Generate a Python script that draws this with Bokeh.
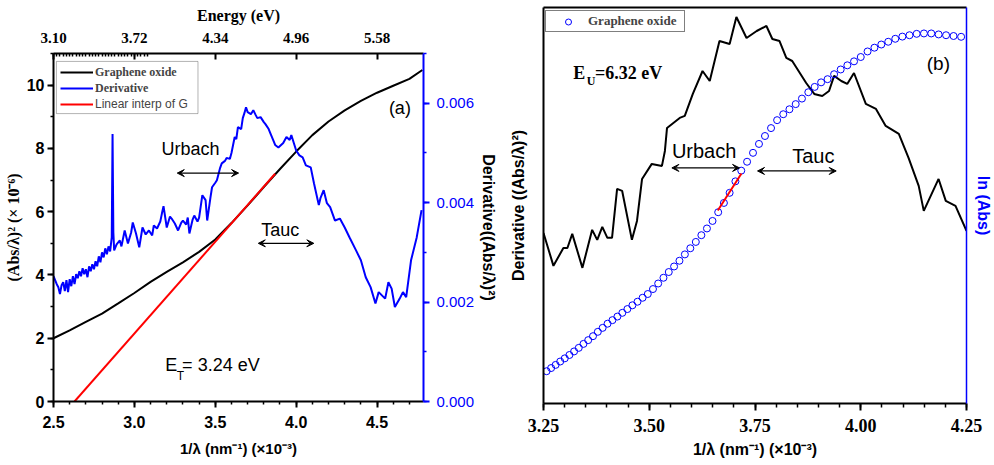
from bokeh.plotting import figure
from bokeh.layouts import row, column
from bokeh.models import (Range1d, LinearAxis, SingleIntervalTicker, FixedTicker,
                          NumeralTickFormatter, Legend, LegendItem, Label, Arrow,
                          VeeHead, BoxAnnotation)
from bokeh.embed import file_html
from bokeh.resources import INLINE

# ---------------- data: panel (a) ----------------
go_x = [2.5, 2.6, 2.7, 2.8, 2.9, 3.0, 3.1, 3.2, 3.3, 3.4, 3.5, 3.6, 3.7, 3.8, 3.9,
        4.0, 4.1, 4.2, 4.3, 4.4, 4.5, 4.6, 4.7, 4.78]
go_y = [2.0, 2.25, 2.52, 2.78, 3.1, 3.43, 3.78, 4.1, 4.4, 4.73, 5.12, 5.64, 6.2, 6.78, 7.35,
        7.9, 8.42, 8.85, 9.2, 9.5, 9.76, 9.98, 10.2, 10.48]

deriv_x = [2.50, 2.52, 2.53, 2.54, 2.55, 2.56, 2.57, 2.58, 2.59, 2.60,
           2.61, 2.62, 2.63, 2.64, 2.65, 2.66, 2.67, 2.68, 2.69, 2.70,
           2.71, 2.72, 2.73, 2.74, 2.75, 2.76, 2.77, 2.78, 2.79, 2.80,
           2.81, 2.82, 2.83, 2.84, 2.85, 2.86, 2.865, 2.87, 2.875, 2.89,
           2.91, 2.92, 2.94, 2.96, 2.98, 2.99, 3.01, 3.03, 3.05, 3.07,
           3.09, 3.11, 3.12, 3.14, 3.16, 3.17, 3.18, 3.20, 3.22, 3.23,
           3.25, 3.27, 3.29, 3.30, 3.32, 3.33, 3.34, 3.36, 3.37, 3.39,
           3.40, 3.42, 3.44, 3.45, 3.47, 3.48, 3.50, 3.51, 3.53, 3.54,
           3.56, 3.57, 3.59, 3.60, 3.62, 3.63, 3.64, 3.66, 3.67, 3.68,
           3.69, 3.70, 3.72, 3.735, 3.75, 3.76, 3.78, 3.80, 3.81, 3.83,
           3.84, 3.86, 3.87, 3.89, 3.92, 3.94, 3.96, 3.97, 4.00, 4.02,
           4.04, 4.06, 4.09, 4.11, 4.14, 4.15, 4.17, 4.19, 4.21, 4.24,
           4.27, 4.30, 4.33, 4.37, 4.40, 4.43, 4.46, 4.49, 4.51, 4.55,
           4.57, 4.59, 4.61, 4.64, 4.66, 4.68, 4.71, 4.745, 4.775]
deriv_y = [0.00252, 0.00236, 0.00230, 0.00216, 0.00234, 0.00240, 0.00222, 0.00244, 0.00220, 0.00246,
           0.00232, 0.00252, 0.00236, 0.00256, 0.00248, 0.00262, 0.00252, 0.00268, 0.00256, 0.00266,
           0.00250, 0.00272, 0.00262, 0.00276, 0.00266, 0.00282, 0.00272, 0.00292, 0.00280, 0.00300,
           0.00290, 0.00308, 0.00296, 0.00312, 0.00302, 0.00330, 0.00538, 0.00340, 0.00304, 0.00316,
           0.00324, 0.00312, 0.00344, 0.00318, 0.00340, 0.00360, 0.00338, 0.00310, 0.00350, 0.00336,
           0.00344, 0.00334, 0.00354, 0.00348, 0.00362, 0.00378, 0.00393, 0.00350, 0.00372, 0.00368,
           0.00358, 0.00344, 0.00360, 0.00364, 0.00356, 0.00370, 0.00338, 0.00366, 0.00374, 0.00362,
           0.00370, 0.00415, 0.00405, 0.00364, 0.00410, 0.00431, 0.00440, 0.00445, 0.00470, 0.00479,
           0.00484, 0.00490, 0.00488, 0.00500, 0.00532, 0.00528, 0.00552, 0.00548, 0.00570, 0.00580,
           0.00592, 0.00582, 0.00578, 0.00586, 0.00576, 0.00570, 0.00572, 0.00562, 0.00558, 0.00548,
           0.00540, 0.00524, 0.00516, 0.00511, 0.00520, 0.00532, 0.00526, 0.00536, 0.00505, 0.00495,
           0.00491, 0.00475, 0.00471, 0.00439, 0.00395, 0.00409, 0.00425, 0.00399, 0.00391, 0.00364,
           0.00368, 0.00350, 0.00330, 0.00304, 0.00284, 0.00250, 0.00230, 0.00197, 0.00220, 0.00207,
           0.00240, 0.00227, 0.00190, 0.00207, 0.00220, 0.00210, 0.00284, 0.00330, 0.00385]

fit_x = [2.63, 3.87]
fit_y = [0.0, 7.2]

energy_ticks = [3.10, 3.72, 4.34, 4.96, 5.58]

# ---------------- data: panel (b) ----------------
b_deriv_x = [3.250, 3.2735, 3.297, 3.3065, 3.318, 3.342, 3.365, 3.377, 3.389, 3.401,
             3.412, 3.424, 3.436, 3.459, 3.471, 3.483, 3.506, 3.530, 3.537, 3.542,
             3.572, 3.584, 3.603, 3.626, 3.643, 3.666, 3.690, 3.706, 3.730, 3.754,
             3.777, 3.791, 3.808, 3.824, 3.838, 3.871, 3.890, 3.909, 3.925, 3.937,
             3.954, 3.968, 3.984, 4.012, 4.036, 4.059, 4.090, 4.113, 4.137, 4.149,
             4.184, 4.201, 4.224, 4.250]
b_deriv_y = [0.003632, 0.003286, 0.003474, 0.003474, 0.003622, 0.003265, 0.003664, 0.003559, 0.003695, 0.003580,
             0.003580, 0.004094, 0.004073, 0.003559, 0.003758, 0.004199, 0.004357, 0.004336, 0.004493, 0.004735,
             0.004840, 0.004861, 0.005092, 0.005333, 0.005228, 0.005648, 0.005617, 0.005900, 0.005680, 0.005753,
             0.005806, 0.005669, 0.005648, 0.005470, 0.005438, 0.005207, 0.005092, 0.005071, 0.005123, 0.005281,
             0.005228, 0.005197, 0.005312, 0.004987, 0.004934, 0.004756, 0.004672, 0.004420, 0.004126, 0.003863,
             0.004199, 0.003968, 0.003916, 0.003653]

inv_lambda = [3.2573, 3.2680, 3.2787, 3.2895, 3.3003, 3.3113, 3.3223, 3.3333, 3.3445, 3.3557,
              3.3670, 3.3784, 3.3898, 3.4014, 3.4130, 3.4247, 3.4364, 3.4483, 3.4602, 3.4722,
              3.4843, 3.4965, 3.5088, 3.5211, 3.5336, 3.5461, 3.5587, 3.5714, 3.5842, 3.5971,
              3.6101, 3.6232, 3.6364, 3.6496, 3.6630, 3.6765, 3.6900, 3.7037, 3.7175, 3.7313,
              3.7453, 3.7594, 3.7736, 3.7879, 3.8023, 3.8168, 3.8314, 3.8462, 3.8610, 3.8760,
              3.8911, 3.9063, 3.9216, 3.9370, 3.9526, 3.9683, 3.9841, 4.0000, 4.0161, 4.0323,
              4.0486, 4.0650, 4.0816, 4.0984, 4.1152, 4.1322, 4.1494, 4.1667, 4.1841, 4.2017,
              4.2194, 4.2373]
ln_abs = [-1.337, -1.321, -1.305, -1.288, -1.272, -1.255, -1.237, -1.219, -1.199, -1.180,
          -1.160, -1.138, -1.118, -1.097, -1.079, -1.061, -1.042, -1.023, -1.004, -0.986,
          -0.966, -0.947, -0.922, -0.894, -0.865, -0.836, -0.808, -0.779, -0.747, -0.716,
          -0.684, -0.650, -0.616, -0.578, -0.534, -0.487, -0.436, -0.378, -0.324, -0.279,
          -0.234, -0.189, -0.149, -0.109, -0.069, -0.039, -0.014, 0.012, 0.040, 0.072,
          0.099, 0.122, 0.138, 0.163, 0.187, 0.208, 0.228, 0.250, 0.278, 0.297,
          0.313, 0.327, 0.342, 0.353, 0.360, 0.367, 0.369, 0.369, 0.364, 0.360,
          0.356, 0.352]

urbach_x = [3.662, 3.718]
urbach_y = [-0.525, -0.338]

SANS = "Liberation Sans"
SERIF = "Liberation Serif"
BLUE = "#0000FF"


def style_axis(ax, color="black", font=SANS, size="16px", fstyle="bold", lw=2,
               tick_out=6, minor_out=3):
    ax.axis_line_color = color
    ax.axis_line_width = lw
    ax.major_tick_line_color = color
    ax.minor_tick_line_color = color
    ax.major_tick_line_width = lw
    ax.minor_tick_line_width = 1.5
    ax.major_tick_out = tick_out
    ax.major_tick_in = 0
    ax.minor_tick_out = minor_out
    ax.minor_tick_in = 0
    ax.major_label_text_color = color
    ax.major_label_text_font = font
    ax.major_label_text_font_size = size
    ax.major_label_text_font_style = fstyle
    ax.axis_label_text_color = color
    ax.axis_label_text_font_style = "bold"


# ================= panel (a) =================
pa = figure(width=500, height=465, x_range=Range1d(2.5, 4.787), y_range=Range1d(0, 11),
            output_backend="svg", toolbar_location=None,
            min_border_left=53, min_border_right=73, min_border_top=53, min_border_bottom=64)
pa.outline_line_color = None
pa.xgrid.grid_line_color = None
pa.ygrid.grid_line_color = None
pa.background_fill_color = "white"
pa.border_fill_color = "white"

pa.extra_y_ranges = {"deriv": Range1d(0, 0.007)}
pa.extra_x_ranges = {"energy": Range1d(2.5 * 1.24, 4.787 * 1.24)}

xa = pa.xaxis[0]
style_axis(xa, size="16px")
xa.ticker = SingleIntervalTicker(interval=0.5, num_minor_ticks=5)
xa.formatter = NumeralTickFormatter(format="0.0")
xa.major_label_standoff = 8
xa.axis_label = "1/λ (nm⁻¹) (×10⁻³)"
xa.axis_label_text_font = SANS
xa.axis_label_text_font_size = "15px"
xa.axis_label_standoff = 9

ya = pa.yaxis[0]
style_axis(ya, size="16px")
ya.ticker = SingleIntervalTicker(interval=2, num_minor_ticks=2)
ya.major_label_standoff = 3
ya.axis_label = "(Abs/λ)² (× 10⁻⁶)"
ya.axis_label_text_font = SERIF
ya.axis_label_text_font_size = "16px"
ya.axis_label_standoff = 2

top_minor = [energy_ticks[0] + 0.124 * k / 5 for k in range(-5, 30)]
ta = LinearAxis(x_range_name="energy",
                ticker=FixedTicker(ticks=energy_ticks, minor_ticks=top_minor),
                formatter=NumeralTickFormatter(format="0.00"))
style_axis(ta, font=SERIF, size="15px")
ta.major_tick_out = 0
ta.major_tick_in = 6
ta.minor_tick_out = 0
ta.minor_tick_in = 3
ta.major_label_standoff = 11
ta.axis_label = "Energy (eV)"
ta.axis_label_text_font = SERIF
ta.axis_label_text_font_size = "16px"
ta.axis_label_standoff = 6
pa.add_layout(ta, "above")

ra = LinearAxis(y_range_name="deriv",
                ticker=SingleIntervalTicker(interval=0.002, num_minor_ticks=2),
                formatter=NumeralTickFormatter(format="0.000"))
style_axis(ra, color=BLUE, size="15px", fstyle="normal")
ra.major_label_standoff = 7
ra.axis_label = "Derivative((Abs/λ)²)"
ra.axis_label_text_color = "black"
ra.axis_label_text_font = SANS
ra.axis_label_text_font_size = "16px"
ra.axis_label_standoff = 3
pa.add_layout(ra, "right")

r_go = pa.line(go_x, go_y, line_color="black", line_width=2)
r_der = pa.line(deriv_x, deriv_y, line_color=BLUE, line_width=2, y_range_name="deriv")
r_fit = pa.line(fit_x, fit_y, line_color="red", line_width=2)

# legend frame and entries (two fonts in the original)
pa.add_layout(BoxAnnotation(left=2.518, right=3.393, top=10.75, bottom=9.10,
                            fill_color="white", fill_alpha=1.0,
                            line_color="black", line_width=1))
leg_a1 = Legend(items=[LegendItem(label="Graphene oxide", renderers=[r_go]),
                       LegendItem(label="Derivative", renderers=[r_der])],
                location=(7, 305), padding=0, margin=0, spacing=0,
                glyph_width=33, glyph_height=16, label_height=16, label_standoff=2,
                label_text_font=SERIF, label_text_font_style="bold",
                label_text_font_size="12px", border_line_color=None,
                background_fill_alpha=0)
leg_a2 = Legend(items=[LegendItem(label="Linear interp of G", renderers=[r_fit])],
                location=(7, 289), padding=0, margin=0, spacing=0,
                glyph_width=33, glyph_height=16, label_height=16, label_standoff=2,
                label_text_font=SANS, label_text_font_size="12px",
                border_line_color=None, background_fill_alpha=0)
pa.add_layout(leg_a1)
pa.add_layout(leg_a2)

for txt, x, y, size in [("Urbach", 3.167, 7.97, "18px"),
                        ("Tauc", 3.784, 5.41, "18px"),
                        ("(a)", 4.573, 9.27, "18px"),
                        ("E", 3.191, 1.14, "18px"),
                        ("T", 3.262, 0.80, "12px"),
                        ("= 3.24 eV", 3.295, 1.14, "18px")]:
    pa.add_layout(Label(x=x, y=y, text=txt, text_font=SANS, text_font_size=size,
                        text_baseline="middle", text_align="left", text_color="black"))

for xs, xe, yy in [(3.265, 3.644, 7.22), (3.766, 4.109, 5.0)]:
    pa.add_layout(Arrow(x_start=xs, y_start=yy, x_end=xe, y_end=yy, line_width=1.2,
                        start=VeeHead(size=7, line_color="black", fill_color="black", line_width=1),
                        end=VeeHead(size=7, line_color="black", fill_color="black", line_width=1)))

# ================= panel (b) =================
pb = figure(width=494, height=465, x_range=Range1d(3.25, 4.25), y_range=Range1d(0.00184, 0.006),
            output_backend="svg", toolbar_location=None,
            min_border_left=43, min_border_right=26, min_border_top=7, min_border_bottom=62)
pb.outline_line_color = None
pb.xgrid.grid_line_color = None
pb.ygrid.grid_line_color = None
pb.background_fill_color = "white"
pb.border_fill_color = "white"
pb.extra_y_ranges = {"ln": Range1d(-1.5, 0.5)}

xb = pb.xaxis[0]
style_axis(xb, font=SERIF, size="18px", tick_out=7, minor_out=4)
xb.ticker = SingleIntervalTicker(interval=0.25, num_minor_ticks=5)
xb.formatter = NumeralTickFormatter(format="0.00")
xb.major_label_standoff = 8
xb.axis_label = "1/λ (nm⁻¹) (×10⁻³)"
xb.axis_label_text_font = SANS
xb.axis_label_text_font_size = "16px"
xb.axis_label_standoff = 6

yb = pb.yaxis[0]
style_axis(yb, tick_out=0, minor_out=0)
yb.ticker = FixedTicker(ticks=[])
yb.major_label_standoff = 0
yb.axis_label = "Derivative ((Abs/λ)²)"
yb.axis_label_text_font = SANS
yb.axis_label_text_font_size = "16px"
yb.axis_label_standoff = 17

tb = LinearAxis(ticker=FixedTicker(ticks=[]))
style_axis(tb, tick_out=0, minor_out=0)
tb.major_label_standoff = 0
tb.major_label_text_font_size = "1px"
pb.add_layout(tb, "above")

rb = LinearAxis(y_range_name="ln", ticker=FixedTicker(ticks=[]))
style_axis(rb, color=BLUE, lw=1.5, tick_out=0, minor_out=0)
rb.major_label_standoff = 0
rb.axis_label = "ln (Abs)"
rb.axis_label_text_font = SANS
rb.axis_label_text_font_size = "16px"
rb.axis_label_standoff = 8
pb.add_layout(rb, "right")

pb.line(b_deriv_x, b_deriv_y, line_color="black", line_width=2)
r_circ = pb.scatter(inv_lambda, ln_abs, marker="circle", size=7, fill_color=None,
                    line_color=BLUE, line_width=1, y_range_name="ln")
pb.line(urbach_x, urbach_y, line_color="red", line_width=2, y_range_name="ln")

leg_b = Legend(items=[LegendItem(label="Graphene oxide", renderers=[r_circ])],
               location=(2, 371), padding=2, margin=0, spacing=0,
               glyph_width=40, glyph_height=15, label_height=15, label_standoff=0,
               label_width=94, label_text_font=SERIF, label_text_font_style="bold",
               label_text_font_size="13px", border_line_color="black",
               border_line_width=1, background_fill_color="white", background_fill_alpha=1)
pb.add_layout(leg_b)

for txt, x, y, font, size in [("Urbach", 3.5535, 0.004493, SANS, "20px"),
                              ("Tauc", 3.838, 0.004441, SANS, "20px"),
                              ("(b)", 4.156, 0.005407, SANS, "19px"),
                              ("E", 3.3206, 0.005312, SERIF, "18px"),
                              ("U", 3.352, 0.005225, SERIF, "12px"),
                              ("=6.32 eV", 3.372, 0.005312, SERIF, "18px")]:
    pb.add_layout(Label(x=x, y=y, text=txt, text_font=font, text_font_size=size,
                        text_font_style="bold" if font == SERIF else "normal",
                        text_baseline="middle", text_align="left", text_color="black"))

for xs, xe, yy in [(3.5535, 3.7135, 0.004315), (3.756, 3.942, 0.004283)]:
    pb.add_layout(Arrow(x_start=xs, y_start=yy, x_end=xe, y_end=yy, line_width=1.2,
                        start=VeeHead(size=7, line_color="black", fill_color="black", line_width=1),
                        end=VeeHead(size=7, line_color="black", fill_color="black", line_width=1)))

layout = row(column(pa), column(pb))
open("out.html", "w").write(file_html(layout, INLINE))
